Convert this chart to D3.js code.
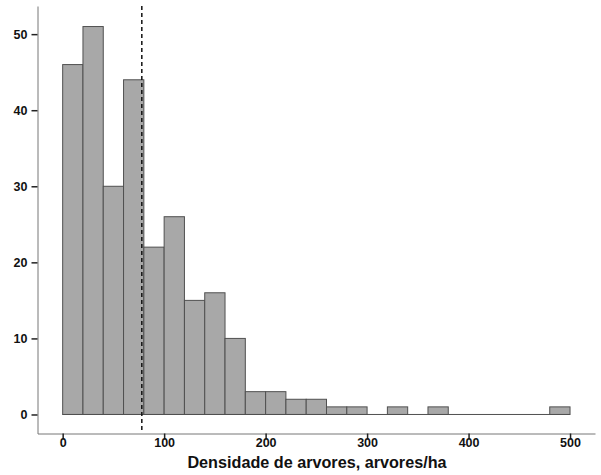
<!DOCTYPE html>
<html><head><meta charset="utf-8">
<script src="https://cdn.jsdelivr.net/npm/d3@7"></script>
<style>body{margin:0;background:#fff}svg{display:block}</style>
</head><body>
<script>
const binStarts = [0,20,40,60,80,100,120,140,160,180,200,220,240,260,280,300,320,340,360,380,400,420,440,460,480];
const binWidth = 20;
const counts = [46,51,30,44,22,26,15,16,10,3,3,2,2,1,1,0,1,0,1,0,0,0,0,0,1];
const xTicks = [0,100,200,300,400,500];
const yTicks = [0,10,20,30,40,50];
const refLine = 78;
const xLabel = "Densidade de arvores, arvores/ha";

const W = 601, H = 475;
const svg = d3.select("body").append("svg").attr("width", W).attr("height", H);
const x = d3.scaleLinear().domain([-24.8, 524.6]).range([37.5, 595]);
const y = d3.scaleLinear().domain([-2.5, 53.7]).range([433.5, 6]);

svg.append("g").selectAll("rect").data(binStarts.map((s,i)=>({s, c:counts[i]})).filter(d=>d.c>0))
  .join("rect")
  .attr("x", d=>x(d.s)).attr("width", d=>x(d.s+binWidth)-x(d.s))
  .attr("y", d=>y(d.c)).attr("height", d=>y(0)-y(d.c))
  .attr("fill", "#a8a8a8").attr("stroke", "#505050").attr("stroke-width", 1);

svg.append("line").attr("x1", x(binStarts[0])).attr("x2", x(binStarts[binStarts.length-1]+binWidth))
  .attr("y1", y(0)).attr("y2", y(0)).attr("stroke", "#505050").attr("stroke-width", 1);

svg.append("line").attr("x1", x(refLine)).attr("x2", x(refLine))
  .attr("y1", y(53.7)).attr("y2", y(-2.3))
  .attr("stroke", "#111").attr("stroke-width", 1.5).attr("stroke-dasharray", "4,3");

const xAxis = d3.axisBottom(x).tickValues(xTicks).tickSize(6).tickSizeOuter(0);
const gx = svg.append("g").attr("transform", `translate(0,${y(-2.5)})`).call(xAxis);
const yAxis = d3.axisLeft(y).tickValues(yTicks).tickSize(6).tickSizeOuter(0);
const gy = svg.append("g").attr("transform", `translate(${x(-24.8)},0)`).call(yAxis);
[gx, gy].forEach(g=>{
  g.select(".domain").attr("stroke", "#777");
  g.selectAll(".tick line").attr("stroke", "#222").attr("stroke-width", 1.5);
  g.selectAll(".tick text").attr("font-family", "Liberation Sans, Arial, sans-serif")
    .attr("font-size", 12.5).attr("font-weight", "bold").attr("fill", "#111");
});
gx.selectAll(".tick text").attr("y", 5).attr("dy", "0.71em");
gy.selectAll(".tick text").attr("dx", "-1px");

svg.append("text").attr("x", 317).attr("y", 468).attr("text-anchor", "middle")
  .attr("font-family", "Liberation Sans, Arial, sans-serif").attr("font-size", 16.2)
  .attr("font-weight", "bold").attr("fill", "#111").text(xLabel);
</script>
</body></html>
